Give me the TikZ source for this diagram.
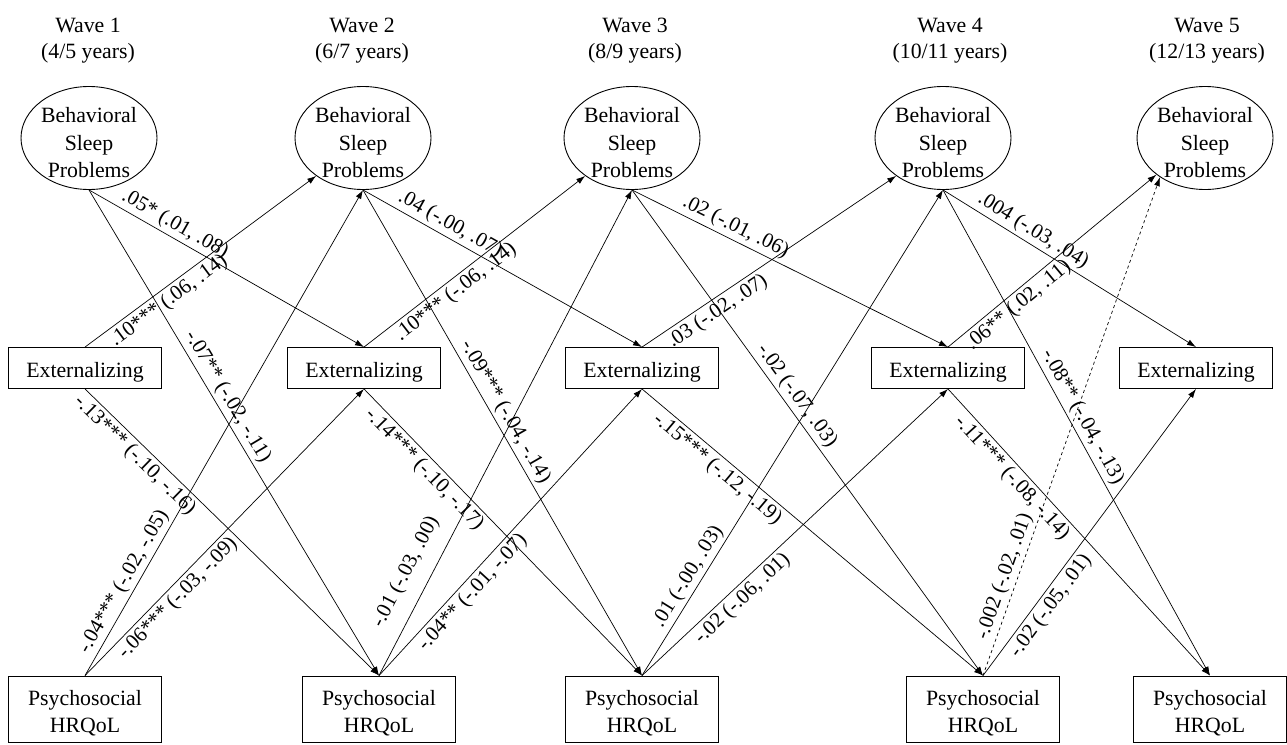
\documentclass[tikz,border=0pt]{standalone}
\usepackage{fontspec}
\setmainfont{Liberation Serif}
\usetikzlibrary{shapes.geometric,arrows.meta}
\begin{document}
\begin{tikzpicture}[x=1pt,y=-1pt,
  every node/.style={font=\fontsize{21.8}{27.5}\selectfont},
  bsp/.style={draw,ellipse,line width=0.9pt,minimum width=136pt,minimum height=103pt,inner sep=0pt},
  extbox/.style={draw,rectangle,line width=0.9pt,minimum width=153pt,minimum height=41pt,inner sep=0pt},
  hrqbox/.style={draw,rectangle,line width=0.9pt,minimum width=153pt,minimum height=66pt,inner sep=0pt},
  nodetext/.style={align=center,inner sep=0pt},
  wavehead/.style={align=center,inner sep=0pt,font=\fontsize{21.8}{26}\selectfont},
  link/.style={line width=0.7pt,-{Latex[length=9pt,width=6pt]}},
  lab/.style={sloped,inner sep=3pt,font=\fontsize{21}{24}\selectfont}
]
\useasboundingbox (0,0) rectangle (1287,744);

% wave headings
\node[wavehead] (W1) at (88,41)   {Wave 1\\(4/5 years)};
\node[wavehead] (W2) at (362,41)  {Wave 2\\(6/7 years)};
\node[wavehead] (W3) at (635,41)  {Wave 3\\(8/9 years)};
\node[wavehead] (W4) at (950,41)  {Wave 4\\(10/11 years)};
\node[wavehead] (W5) at (1207,41) {Wave 5\\(12/13 years)};

% behavioral sleep problems (outline, then its text)
\foreach \i/\x in {1/89,2/363,3/632,4/943,5/1205}{
  \node[bsp] (B\i) at (\x,138) {};
  \node[nodetext] (B\i t) at (\x,143) {Behavioral\\Sleep\\Problems};
}

% externalizing
\foreach \i/\x in {1/85,2/364,3/642,4/948,5/1196}{
  \node[extbox] (E\i) at (\x,368) {};
  \node[nodetext] (E\i t) at (\x,372) {Externalizing};
}

% psychosocial HRQoL
\foreach \i/\x in {1/85,2/379,3/642,4/983,5/1210}{
  \node[hrqbox] (H\i) at (\x,709) {};
  \node[nodetext] (H\i t) at (\x,713) {Psychosocial\\HRQoL};
}

% wave 1 -> wave 2
\draw[link] (B1.south) -- node[lab,above,pos=.29] {.05* (.01, .08)} (E2.north);
\draw[link] (E1.north) -- node[lab,below,pos=.33] {.10*** (.06, .14)} (B2.219);
\draw[link] (B1.south) -- node[lab,above,pos=.44] {-.07** (-.02, -.11)} (H2.north);
\draw[link] (E1.south) -- node[lab,below,pos=.20] {-.13*** (-.10, -.16)} (H2.north);
\draw[link] (H1.north) -- node[lab,above,pos=.18] {-.04*** (-.02, -.05)} (B2.south);
\draw[link] (H1.north) -- node[lab,below,pos=.30] {-.06*** (-.03, -.09)} (E2.south);

% wave 2 -> wave 3
\draw[link] (B2.south) -- node[lab,above,pos=.29] {.04 (-.00, .07)} (E3.north);
\draw[link] (E2.north) -- node[lab,below,pos=.38] {.10*** (-.06, .14)} (B3.219);
\draw[link] (B2.south) -- node[lab,above,pos=.47] {-.09*** (-.04, -.14)} (H3.north);
\draw[link] (E2.south) -- node[lab,below,pos=.25] {-.14*** (-.10, -.17)} (H3.north);
\draw[link] (H2.north) -- node[lab,above=11pt,pos=.19] {-.01 (-.03, .00)} (B3.south);
\draw[link] (H2.north) -- node[lab,below,pos=.32] {-.04** (-.01, -.07)} (E3.south);

% wave 3 -> wave 4
\draw[link] (B3.south) -- node[lab,above,pos=.31] {.02 (-.01, .06)} (E4.north);
\draw[link] (E3.north) -- node[lab,below,pos=.27] {.03 (-.02, .07)} (B4.219);
\draw[link] (B3.south) -- node[lab,above,pos=.44] {-.02 (-.07, .03)} (H4.north);
\draw[link] (E3.south) -- node[lab,below,pos=.245] {-.15*** (-.12, -.19)} (H4.north);
\draw[link] (H3.north) -- node[lab,above,pos=.19] {.01 (-.00, .03)} (B4.south);
\draw[link] (H3.north) -- node[lab,below,pos=.30] {-.02 (-.06, .01)} (E4.south);

% wave 4 -> wave 5
\draw[link] (B4.south) -- node[lab,above,pos=.33] {.004 (-.03, .04)} (E5.north);
\draw[link] (E4.north) -- node[lab,below,pos=.30] {.06** (.02, .11)} (B5.217);
\draw[link] (B4.south) -- node[lab,above,pos=.48] {-.08** (-.04, -.13)} (H5.north);
\draw[link] (E4.south) -- node[lab,below,pos=.28] {-.11*** (-.08, -.14)} (H5.north);
\draw[link,dashed] (H4.north) -- node[lab,above,pos=.19] {-.002 (-.02, .01)} (B5.221);
\draw[link] (H4.north) -- node[lab,below,pos=.27] {-.02 (-.05, .01)} (E5.south);
\end{tikzpicture}
\end{document}
